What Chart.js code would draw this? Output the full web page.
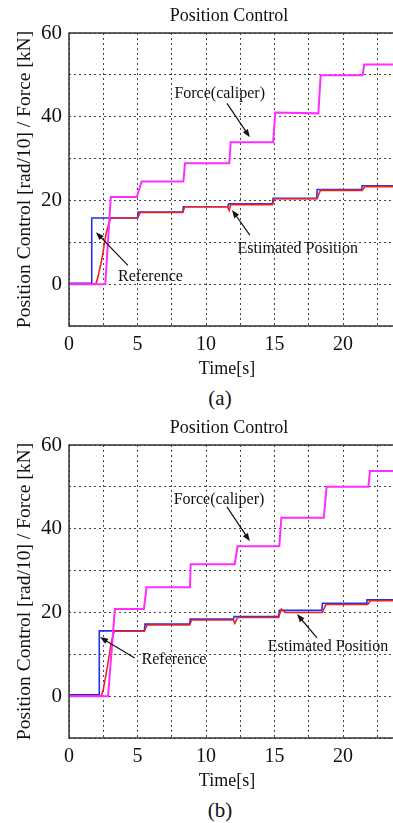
<!DOCTYPE html>
<html>
<head>
<meta charset="utf-8">
<title>Position Control</title>
<script src="https://cdn.jsdelivr.net/npm/chart.js@4.4.0/dist/chart.umd.min.js"></script>
<style>
  html, body { margin: 0; padding: 0; background: #fff; overflow: hidden; }
  #page { position: relative; width: 393px; height: 823px; overflow: hidden; }
  .plot { position: absolute; left: 0; width: 460px; height: 385px; }
  .caption { position: absolute; left: 0; width: 440px; text-align: center;
             font: 21px 'Liberation Serif', serif; line-height: 24px; color: #111; }
</style>
</head>
<body>
<div id="page">
  <div class="plot" style="top:0"><canvas id="chartA" width="460" height="385"></canvas></div>
  <div class="caption" style="top:386px">(a)</div>
  <div class="plot" style="top:412px"><canvas id="chartB" width="460" height="385"></canvas></div>
  <div class="caption" style="top:798px">(b)</div>
</div>

<script>
// tick labels
const xLabelTicks = [0, 5, 10, 15, 20];
const yLabelTicks = [0, 20, 40, 60];

// ---- (a) ----
const refA_t   = [0, 1.65, 1.66, 5.0, 5.05, 8.3, 8.35, 11.6, 11.65, 14.85, 14.9, 18.08, 18.12, 21.36, 21.4, 25];
const refA_v   = [0.2, 0.2, 15.8, 15.8, 17.2, 17.2, 18.5, 18.5, 19.2, 19.2, 20.5, 20.5, 22.6, 22.6, 23.5, 23.5];

const estA_t   = [0, 1.95, 2.1, 2.4, 2.7, 3.0, 3.1, 5.0, 5.2, 8.3, 8.45, 11.55, 11.7, 11.8, 14.85, 15.0, 18.1, 18.35, 21.4, 21.6, 25];
const estA_v   = [0, 0, 1.5, 6, 12, 15.5, 15.8, 15.8, 17.1, 17.1, 18.5, 18.5, 17.6, 19.0, 19.0, 20.4, 20.4, 22.4, 22.4, 23.3, 23.3];

const forceA_t = [0, 2.65, 3.05, 4.95, 5.3, 8.35, 8.47, 11.7, 11.8, 14.9, 15.05, 18.2, 18.37, 21.43, 21.55, 25];
const forceA_v = [0, 0, 20.8, 20.8, 24.5, 24.5, 28.9, 28.9, 33.9, 33.9, 41.0, 40.8, 49.9, 49.9, 52.5, 52.5];

// ---- (b) ----
const refB_t   = [0, 2.2, 2.21, 5.5, 5.55, 8.8, 8.85, 12.0, 12.05, 15.3, 15.35, 18.45, 18.5, 21.7, 21.75, 25];
const refB_v   = [0.3, 0.3, 15.6, 15.6, 17.2, 17.2, 18.4, 18.4, 19.0, 19.0, 20.5, 20.5, 22.2, 22.2, 23.0, 23.0];

const estB_t   = [0, 2.35, 2.5, 2.8, 3.1, 3.3, 5.5, 5.7, 8.8, 8.95, 12.0, 12.1, 12.3, 15.3, 15.5, 15.8, 18.5, 18.75, 21.8, 22.0, 25];
const estB_v   = [0, 0, 1.5, 7, 13, 15.5, 15.5, 17.0, 17.0, 18.2, 18.2, 17.4, 18.8, 18.8, 20.8, 20.0, 20.0, 21.9, 21.9, 22.8, 22.8];

const forceB_t = [0, 2.85, 3.35, 5.47, 5.66, 8.83, 8.88, 12.1, 12.3, 15.35, 15.5, 18.6, 18.8, 21.85, 21.97, 25];
const forceB_v = [0, 0, 20.8, 20.8, 26.0, 26.0, 31.5, 31.5, 35.8, 35.8, 42.6, 42.6, 50.0, 50.0, 53.8, 53.8];

// annotation labels + arrows (data coordinates)
const notesA = [
    { text: 'Force(caliper)',     at: [11.0, 45.4], from: [11.53, 43.2], to: [13.2, 35.1] },
    { text: 'Estimated Position', at: [16.7, 8.4],  from: [13.2, 11.7],  to: [11.9, 17.7] },
    { text: 'Reference',          at: [5.95, 1.7],  from: [4.3, 4.5],    to: [1.97, 12.4] }
];
const notesB = [
    { text: 'Force(caliper)',     at: [10.95, 46.8], from: [11.53, 45.2], to: [13.2, 37.0] },
    { text: 'Reference',          at: [7.66, 8.6],   from: [4.8, 9.1],    to: [2.26, 14.1] },
    { text: 'Estimated Position', at: [18.9, 11.9],  from: [18.1, 13.9],  to: [16.64, 19.6] }
];

const SERIF = "'Liberation Serif', 'Times New Roman', serif";

function toPoints(ts, vs) {
    return ts.map((t, i) => ({ x: t, y: vs[i] }));
}

function drawArrow(ctx, x1, y1, x2, y2) {
    const ang = Math.atan2(y2 - y1, x2 - x1);
    const len = 8, half = 3;
    ctx.beginPath();
    ctx.moveTo(x1, y1);
    ctx.lineTo(x2 - Math.cos(ang) * len * 0.8, y2 - Math.sin(ang) * len * 0.8);
    ctx.stroke();
    ctx.beginPath();
    ctx.moveTo(x2, y2);
    ctx.lineTo(x2 - Math.cos(ang) * len - Math.sin(ang) * half, y2 - Math.sin(ang) * len + Math.cos(ang) * half);
    ctx.lineTo(x2 - Math.cos(ang) * len + Math.sin(ang) * half, y2 - Math.sin(ang) * len - Math.cos(ang) * half);
    ctx.closePath();
    ctx.fill();
}

// frame (left/top/bottom), annotations, chart title and x axis title
const frameAndNotes = {
    id: 'frameAndNotes',
    afterDatasetsDraw(chart, args, opts) {
        const { ctx, chartArea: a, scales: { x, y } } = chart;
        ctx.save();
        ctx.strokeStyle = '#333';
        ctx.lineWidth = 1.5;
        ctx.beginPath();
        ctx.moveTo(a.right, a.top);
        ctx.lineTo(a.left, a.top);
        ctx.lineTo(a.left, a.bottom);
        ctx.lineTo(a.right, a.bottom);
        ctx.stroke();

        ctx.fillStyle = '#111';
        ctx.strokeStyle = '#111';
        ctx.lineWidth = 1.2;
        ctx.textAlign = 'center';
        ctx.textBaseline = 'middle';
        ctx.font = '16px ' + SERIF;
        (opts.notes || []).forEach(n => {
            ctx.fillText(n.text, x.getPixelForValue(n.at[0]), y.getPixelForValue(n.at[1]));
            drawArrow(ctx,
                x.getPixelForValue(n.from[0]), y.getPixelForValue(n.from[1]),
                x.getPixelForValue(n.to[0]), y.getPixelForValue(n.to[1]));
        });

        ctx.font = '18px ' + SERIF;
        ctx.fillText(opts.title, opts.titleCenter, a.top - 17);
        ctx.fillText(opts.xTitle, opts.xTitleCenter, a.bottom + 43);
        ctx.restore();
    }
};

function makeChart(id, ref_t, ref_v, est_t, est_v, force_t, force_v, notes) {
    const ctx = document.getElementById(id).getContext('2d');
    return new Chart(ctx, {
        type: 'line',
        data: {
            datasets: [
                {
                    label: 'Force(caliper)',
                    data: toPoints(force_t, force_v),
                    borderColor: '#ff2cff',
                    borderWidth: 2,
                    order: 0
                },
                {
                    label: 'Estimated Position',
                    data: toPoints(est_t, est_v),
                    borderColor: '#f22020',
                    borderWidth: 1.6,
                    order: 1
                },
                {
                    label: 'Reference',
                    data: toPoints(ref_t, ref_v),
                    borderColor: '#2230f0',
                    borderWidth: 1.6,
                    order: 2
                }
            ]
        },
        options: {
            responsive: false,
            animation: false,
            elements: { point: { radius: 0 }, line: { tension: 0 } },
            layout: { padding: { left: 0, top: 33, right: 48.5, bottom: 0 } },
            scales: {
                x: {
                    type: 'linear',
                    min: 0,
                    max: 25,
                    afterFit: s => { s.height = 59; },
                    grid: { color: '#444', lineWidth: 1, drawTicks: false },
                    border: { display: false, dash: [2, 3] },
                    ticks: {
                        stepSize: 2.5,
                        autoSkip: false,
                        maxRotation: 0,
                        padding: 7,
                        color: '#111',
                        font: { family: SERIF, size: 20 },
                        callback: v => xLabelTicks.includes(v) ? v : ''
                    }
                },
                y: {
                    min: -10,
                    max: 60,
                    afterFit: s => { s.width = 69; },
                    grid: { color: '#444', lineWidth: 1, drawTicks: false },
                    border: { display: false, dash: [2, 3] },
                    ticks: {
                        stepSize: 10,
                        padding: 7,
                        color: '#111',
                        font: { family: SERIF, size: 21 },
                        callback: v => yLabelTicks.includes(v) ? v : ''
                    },
                    title: {
                        display: true,
                        text: 'Position Control [rad/10] / Force [kN]',
                        color: '#111',
                        font: { family: SERIF, size: 19.5 },
                        padding: { top: 13, bottom: 0 }
                    }
                }
            },
            plugins: {
                legend: { display: false },
                tooltip: { enabled: false },
                title: { display: false },
                frameAndNotes: {
                    notes: notes,
                    title: 'Position Control', titleCenter: 229,
                    xTitle: 'Time[s]', xTitleCenter: 227
                }
            }
        },
        plugins: [frameAndNotes]
    });
}

makeChart('chartA', refA_t, refA_v, estA_t, estA_v, forceA_t, forceA_v, notesA);
makeChart('chartB', refB_t, refB_v, estB_t, estB_v, forceB_t, forceB_v, notesB);
</script>
</body>
</html>
